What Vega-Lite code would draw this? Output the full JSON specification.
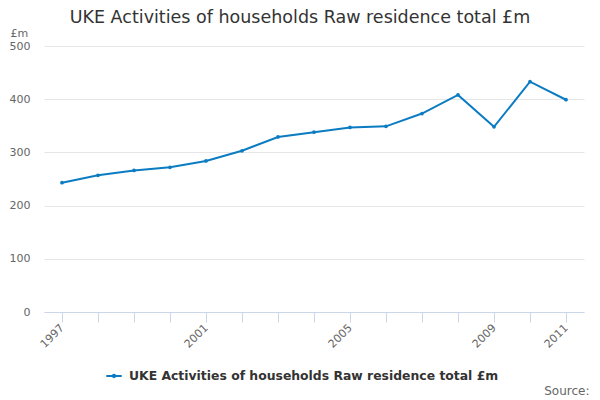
{
  "$schema": "https://vega.github.io/schema/vega-lite/v6.json",
  "width": 540,
  "height": 266,
  "autosize": "none",
  "padding": {"left": 44, "top": 46, "right": 16, "bottom": 88},
  "config": {"font": "DejaVu Sans", "view": {"stroke": null}},
  "title": {
    "text": "UKE Activities of households Raw residence total £m",
    "fontSize": 17.5,
    "fontWeight": "normal",
    "color": "#333333",
    "anchor": "middle",
    "dx": -14,
    "offset": 1
  },
  "data": {
    "values": [
      {"year": "1997", "value": 243},
      {"year": "1998", "value": 257},
      {"year": "1999", "value": 266},
      {"year": "2000", "value": 272},
      {"year": "2001", "value": 284},
      {"year": "2002", "value": 303},
      {"year": "2003", "value": 329},
      {"year": "2004", "value": 338},
      {"year": "2005", "value": 347},
      {"year": "2006", "value": 349},
      {"year": "2007", "value": 373},
      {"year": "2008", "value": 408},
      {"year": "2009", "value": 348},
      {"year": "2010", "value": 433},
      {"year": "2011", "value": 399}
    ]
  },
  "mark": {"type": "line", "strokeWidth": 2, "point": {"size": 14, "filled": true}},
  "encoding": {
    "x": {
      "field": "year",
      "type": "ordinal",
      "title": "Source:",
      "axis": {
        "labelAngle": -45,
        "labelAlign": "right",
        "labelBaseline": "middle",
        "labelPadding": 4,
        "labelExpr": "indexof(['1997','2001','2005','2009','2011'], datum.label) >= 0 ? datum.label : ''",
        "labelColor": "#666666",
        "labelFontSize": 11,
        "tickColor": "#ccd6eb",
        "tickSize": 10,
        "domainColor": "#ccd6eb",
        "grid": false,
        "titleX": 545,
        "titleY": 82,
        "titleAlign": "right",
        "titleBaseline": "alphabetic",
        "titleFontWeight": "normal",
        "titleColor": "#666666",
        "titleFontSize": 12
      }
    },
    "y": {
      "field": "value",
      "type": "quantitative",
      "title": "£m",
      "scale": {"domain": [0, 500]},
      "axis": {
        "values": [0, 100, 200, 300, 400, 500],
        "gridColor": "#e6e6e6",
        "domain": false,
        "ticks": false,
        "labelPadding": 14,
        "labelColor": "#666666",
        "labelFontSize": 11,
        "titleAngle": 0,
        "titleX": -34,
        "titleY": -10,
        "titleAlign": "left",
        "titleBaseline": "alphabetic",
        "titleFontWeight": "normal",
        "titleColor": "#666666",
        "titleFontSize": 11
      }
    },
    "color": {
      "datum": "UKE Activities of households Raw residence total £m",
      "scale": {"range": ["#0b7cc2"]},
      "legend": {
        "orient": "none",
        "legendX": 61,
        "legendY": 321,
        "title": null,
        "labelFontSize": 12.4,
        "labelFontWeight": "bold",
        "labelColor": "#333333",
        "labelOffset": 6,
        "labelLimit": 0,
        "symbolType": "M-1,0H1M0.15,0A0.15,0.15 0 1,1 -0.15,0A0.15,0.15 0 1,1 0.15,0",
        "symbolSize": 240,
        "symbolStrokeWidth": 2
      }
    }
  }
}
